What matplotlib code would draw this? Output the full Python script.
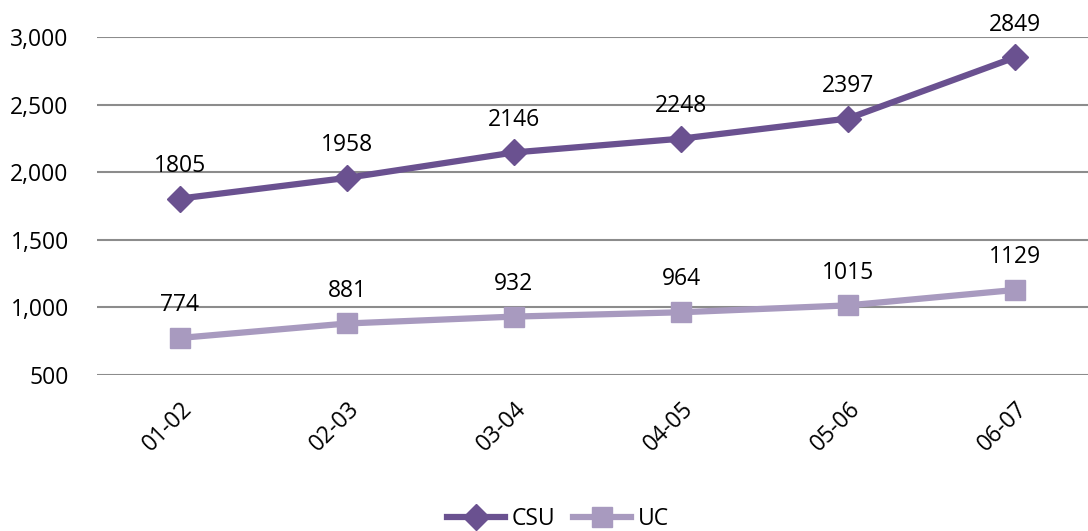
import matplotlib.pyplot as plt
import numpy as np

periods = ["01-02", "02-03", "03-04", "04-05", "05-06", "06-07"]
csu = [1805, 1958, 2146, 2248, 2397, 2849]
uc = [774, 881, 932, 964, 1015, 1129]
y_ticks = [500, 1000, 1500, 2000, 2500, 3000]

plt.rcParams['font.family'] = ['Open Sans', 'DejaVu Sans']

fig = plt.figure(figsize=(10.88, 5.31), dpi=100)
ax = fig.add_axes([96.5 / 1088, 156 / 531, (1098.5 - 96.5) / 1088, 338 / 531])

x = np.arange(len(periods))
ax.plot(x, csu, color='#6a5190', lw=4.5, marker='D', ms=13, label='CSU', clip_on=False, zorder=3)
ax.plot(x, uc, color='#a89abf', lw=4.5, marker='s', ms=15, label='UC', clip_on=False, zorder=3)

for xi, v in zip(x, csu):
    ax.annotate(str(v), (xi, v), xytext=(0, 15), textcoords='offset points',
                ha='center', va='bottom', fontsize=16.5)
for xi, v in zip(x, uc):
    ax.annotate(str(v), (xi, v), xytext=(0, 15), textcoords='offset points',
                ha='center', va='bottom', fontsize=16.5)

ax.set_xlim(-0.5, 5.5)
ax.set_ylim(500, 3000)
ax.set_yticks(y_ticks)
ax.set_yticklabels([f"{t:,}" for t in y_ticks], fontsize=16.5)
ax.set_xticks(x)
ax.set_xticklabels(periods, fontsize=16.5, rotation=45, ha='right', rotation_mode='anchor')
ax.tick_params(length=0)
ax.tick_params(axis='y', pad=20)
ax.tick_params(axis='x', pad=16)
ax.grid(axis='y', color='#8c8c8c', lw=1.5)
ax.set_axisbelow(True)
for s in ax.spines.values():
    s.set_visible(False)

fig.legend(loc='center', bbox_to_anchor=(558 / 1088, 1 - 519 / 531), ncol=2, frameon=False,
           fontsize=16.5, handlelength=2.5, handletextpad=0.3, columnspacing=0.8)

fig.savefig('out.png', dpi=100)
